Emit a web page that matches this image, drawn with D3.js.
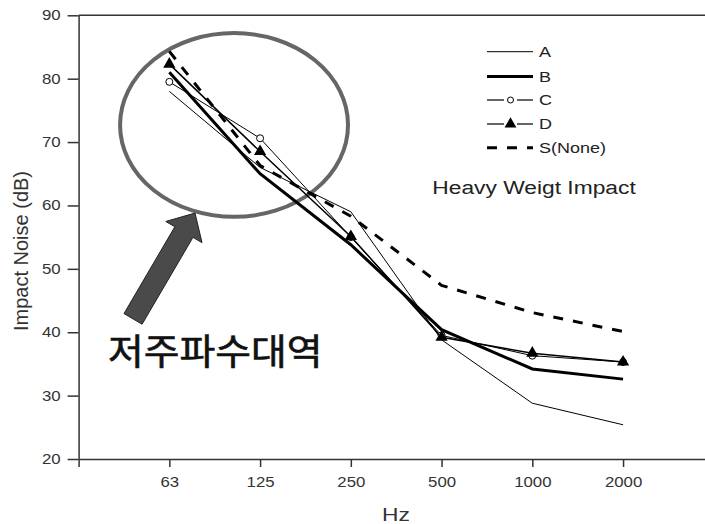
<!DOCTYPE html>
<html>
<head>
<meta charset="utf-8">
<script src="https://cdn.jsdelivr.net/npm/d3@7"></script>
<style>
  body { margin: 0; background: #fff; }
  svg { display: block; }
  text { font-family: Arial, "Liberation Sans", sans-serif; }
</style>
</head>
<body>
<svg id="chart" width="705" height="524"></svg>
<script>
/**
 * Chart data
 */
var freqs = ["63", "125", "250", "500", "1000", "2000"];
var yTicks = [20, 30, 40, 50, 60, 70, 80, 90];
var seriesA = [78.0, 66.0, 59.0, 38.8, 28.8, 25.4];
var seriesB = [81.0, 65.0, 53.8, 40.4, 34.2, 32.6];
var seriesC = [79.5, 70.6, 55.0, 39.5, 36.3, 35.3];
var seriesD = [82.3, 68.5, 55.1, 39.2, 36.7, 35.3];
var seriesS = [84.3, 66.3, 58.3, 47.4, 43.1, 40.1];
var legendNames = ["A", "B", "C", "D", "S(None)"];

var STRETCH = "scale(1.2,1)";

window.onload = function(){
    drawChart();
};

function drawChart(){
    let svg = d3.select("#chart");

    // scales: category index on x (one empty slot each side), dB on y
    let x = d3.scaleLinear().domain([-1, 6]).range([78.6, 713.8]);
    let y = d3.scaleLinear().domain([20, 90]).range([459, 15.3]);

    // axes
    let xAxis = d3.axisBottom(x)
        .tickValues([-1, 0, 1, 2, 3, 4, 5])
        .tickFormat(function(i){ return i >= 0 ? freqs[i] : ""; })
        .tickSize(8)
        .tickPadding(10)
        .tickSizeOuter(0);
    let gx = svg.append("g")
        .attr("transform", `translate(0,${y(20)})`)
        .call(xAxis);

    let yAxis = d3.axisLeft(y)
        .tickValues(yTicks)
        .tickSize(11)
        .tickPadding(4)
        .tickSizeOuter(0);
    let gy = svg.append("g")
        .attr("transform", `translate(${x(-1)},0)`)
        .call(yAxis);

    [gx, gy].forEach(function(g){
        g.selectAll("path, line").attr("stroke", "#333").attr("stroke-width", 1.5);
        g.selectAll("text")
            .attr("fill", "#333")
            .style("font-size", "14px")
            .attr("transform", STRETCH);
    });

    // top frame line
    svg.append("line")
        .attr("x1", x(-1)).attr("x2", x(6))
        .attr("y1", y(90)).attr("y2", y(90))
        .attr("stroke", "#333").attr("stroke-width", 1.5);

    // axis titles
    svg.append("text")
        .attr("transform", `translate(396,521) ${STRETCH}`)
        .attr("text-anchor", "middle")
        .attr("fill", "#333")
        .style("font-size", "19px")
        .text("Hz");

    svg.append("text")
        .attr("transform", "translate(28,251) rotate(-90)")
        .attr("text-anchor", "middle")
        .attr("fill", "#333")
        .style("font-size", "20px")
        .text("Impact Noise (dB)");

    // annotation: ellipse around the low frequency area
    svg.append("ellipse")
        .attr("cx", x(0.713)).attr("cy", y(72.7))
        .attr("rx", x(0.713 + 1.256) - x(0.713))
        .attr("ry", y(72.7 - 14.5) - y(72.7))
        .attr("fill", "none")
        .attr("stroke", "#666")
        .attr("stroke-width", 4);

    // annotation arrow, from tail to tip (data units)
    let tail = [x(-0.4), y(42.1)], tip = [x(0.283), y(58.8)];
    let dx = tip[0] - tail[0], dy = tip[1] - tail[1];
    let len = Math.sqrt(dx * dx + dy * dy);
    let ux = dx / len, uy = dy / len, nx = -uy, ny = ux;
    let shaftW = 10.5, headW = 21, headL = 22;
    let bx = tip[0] - ux * headL, by = tip[1] - uy * headL;
    let pts = [
        [tail[0] + nx * shaftW, tail[1] + ny * shaftW],
        [bx + nx * shaftW, by + ny * shaftW],
        [bx + nx * headW, by + ny * headW],
        tip,
        [bx - nx * headW, by - ny * headW],
        [bx - nx * shaftW, by - ny * shaftW],
        [tail[0] - nx * shaftW, tail[1] - ny * shaftW]
    ];
    svg.append("polygon")
        .attr("points", pts.map(function(p){ return p.join(","); }).join(" "))
        .attr("fill", "#4a4a4a")
        .attr("stroke", "#222")
        .attr("stroke-width", 1);

    svg.append("text")
        .attr("transform", `translate(${x(-0.676)},${y(34.9)}) scale(1.08,1)`)
        .style("font-family", "'Noto Sans CJK KR', sans-serif")
        .style("font-size", "36px")
        .attr("fill", "#111")
        .attr("stroke", "#111")
        .attr("stroke-width", 0.6)
        .text("저주파수대역");

    // series lines
    let line = d3.line()
        .x(function(d, i){ return x(i); })
        .y(function(d){ return y(d); });

    let series = [
        { values: seriesA, width: 1, dash: null },
        { values: seriesC, width: 1, dash: null },
        { values: seriesD, width: 1.5, dash: null },
        { values: seriesS, width: 3, dash: "10,10" },
        { values: seriesB, width: 3, dash: null }
    ];
    series.forEach(function(s){
        svg.append("path")
            .datum(s.values)
            .attr("d", line)
            .attr("fill", "none")
            .attr("stroke", "#000")
            .attr("stroke-width", s.width)
            .attr("stroke-dasharray", s.dash);
    });

    // markers
    svg.selectAll("circle.mc")
        .data(seriesC)
        .enter()
        .append("circle")
        .attr("class", "mc")
        .attr("cx", function(d, i){ return x(i); })
        .attr("cy", function(d){ return y(d); })
        .attr("r", 3.5)
        .attr("fill", "#fff")
        .attr("stroke", "#000")
        .attr("stroke-width", 1);

    let tri = d3.symbol().type(d3.symbolTriangle).size(65);
    svg.selectAll("path.md")
        .data(seriesD)
        .enter()
        .append("path")
        .attr("class", "md")
        .attr("d", tri)
        .attr("transform", function(d, i){ return `translate(${x(i)},${y(d)})`; })
        .attr("fill", "#000");

    // legend
    let legend = svg.append("g").attr("transform", "translate(487,0)");
    let legendY = [51.7, 76.5, 100, 124, 147.7];
    legendNames.forEach(function(name, k){
        let g = legend.append("g").attr("transform", `translate(0,${legendY[k]})`);
        if (k === 0 || k === 1) {
            g.append("line").attr("x1", 0).attr("x2", 46)
                .attr("stroke", "#000").attr("stroke-width", k === 0 ? 1 : 3);
        } else if (k === 2 || k === 3) {
            g.append("line").attr("x1", 0).attr("x2", 17).attr("stroke", "#000").attr("stroke-width", 1.2);
            g.append("line").attr("x1", 30).attr("x2", 46).attr("stroke", "#000").attr("stroke-width", 1.2);
            if (k === 2) {
                g.append("circle").attr("cx", 23.5).attr("r", 3)
                    .attr("fill", "#fff").attr("stroke", "#000");
            } else {
                g.append("path").attr("d", d3.symbol().type(d3.symbolTriangle).size(60))
                    .attr("transform", "translate(23.5,0)").attr("fill", "#000");
            }
        } else {
            g.append("line").attr("x1", 0).attr("x2", 46)
                .attr("stroke", "#000").attr("stroke-width", 3)
                .attr("stroke-dasharray", "10,10");
        }
        g.append("text")
            .attr("transform", `translate(52,0) ${STRETCH}`)
            .attr("dy", "0.36em")
            .attr("fill", "#222")
            .style("font-size", "15px")
            .text(name);
    });

    svg.append("text")
        .attr("transform", `translate(534,194) ${STRETCH}`)
        .attr("text-anchor", "middle")
        .attr("fill", "#222")
        .style("font-size", "19px")
        .text("Heavy Weigt Impact");
}
</script>
</body>
</html>
